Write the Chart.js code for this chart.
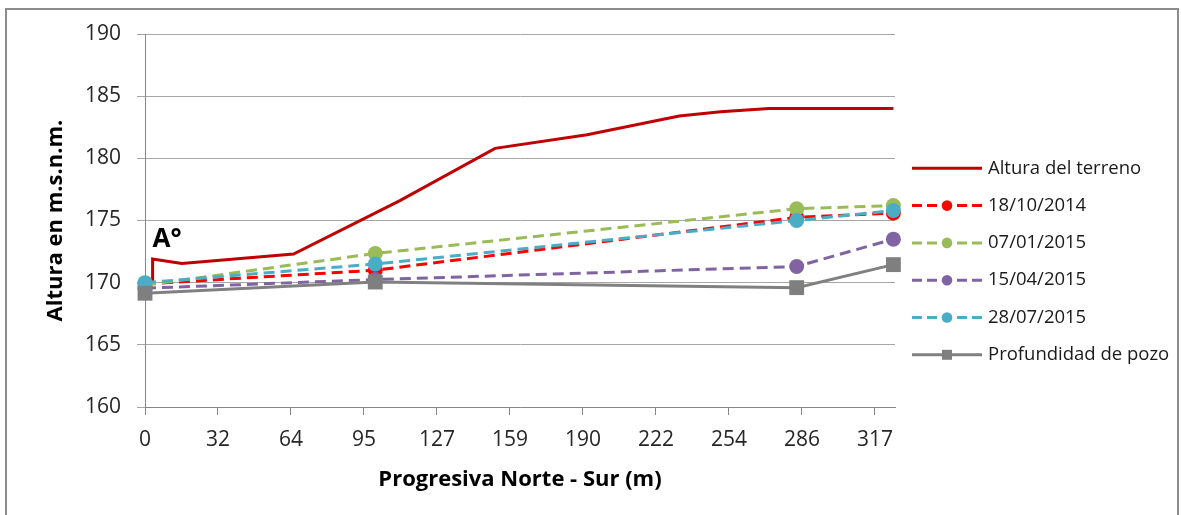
<!DOCTYPE html>
<html>
<head>
  <title>Perfil Norte - Sur</title>
  <script src="https://cdn.jsdelivr.net/npm/chart.js"></script>
  <style>
    body { margin: 0; background: white; font-family: "Open Sans"; }
    #wrap { position: relative; width: 1181px; height: 515px; overflow: hidden; }
    #frame { position: absolute; left: 5px; top: 8px; width: 1170px; height: 520px;
             border: 2px solid #8c8c8c; pointer-events: none; }
    canvas { position: absolute; left: 0; top: 0; }
  </style>
</head>
<body>
  <div id="wrap">
    <canvas id="chart" width="1181" height="515"></canvas>
    <div id="frame"></div>
  </div>
  <script>
    // valores
    const terrenoX = [3.3, 3.3, 16, 64.5, 110.7, 152, 192, 232, 250, 271, 325];
    const terrenoY = [170.0, 171.9, 171.55, 172.3, 176.6, 180.8, 181.9, 183.4, 183.75, 184.0, 184.0];

    const pozoX = [0, 100, 283, 325];
    const fecha1 = [169.9, 171.0, 175.25, 175.6];   // 18/10/2014
    const fecha2 = [169.8, 172.35, 175.95, 176.2];  // 07/01/2015
    const fecha3 = [169.55, 170.25, 171.3, 173.5];  // 15/04/2015
    const fecha4 = [170.0, 171.5, 175.0, 175.8];    // 28/07/2015
    const profundidad = [169.15, 170.05, 169.6, 171.45];

    const xTickLabels = ['0', '32', '64', '95', '127', '159', '190', '222', '254', '286', '317'];
    const xStep = 31.7;

    const pts = (xs, ys) => xs.map((x, i) => ({ x: x, y: ys[i] }));

    function dashed(label, ys, color, order) {
      return {
        label: label, data: pts(pozoX, ys), order: order,
        borderColor: color, backgroundColor: color, borderWidth: 3, borderDash: [11, 6],
        pointRadius: 7.5, pointStyle: 'circle', pointBorderWidth: 0, clip: false
      };
    }

    // leyenda a mano (linea + marcador)
    const legendPlugin = {
      id: 'sideLegend',
      afterDraw(chart) {
        const ctx = chart.ctx;
        ctx.save();
        chart.data.datasets.forEach((ds, i) => {
          const y = 168.3 + i * 37.3;
          ctx.strokeStyle = ds.borderColor;
          ctx.lineWidth = 3;
          ctx.setLineDash(ds.borderDash ? [10, 5] : []);
          ctx.beginPath();
          ctx.moveTo(912, y);
          ctx.lineTo(982, y);
          ctx.stroke();
          ctx.setLineDash([]);
          ctx.fillStyle = ds.backgroundColor;
          if (ds.pointStyle === 'circle' && ds.pointRadius) {
            ctx.beginPath();
            ctx.arc(947, y, 5.3, 0, Math.PI * 2);
            ctx.fill();
          } else if (ds.pointStyle === 'rect' && ds.pointRadius) {
            ctx.fillRect(942, y - 5, 10, 10);
          }
          ctx.fillStyle = '#1a1a1a';
          ctx.font = '18.5px "Open Sans"';
          ctx.textBaseline = 'middle';
          ctx.fillText(ds.label, 988, y);
        });
        // marca A°
        const xs = chart.scales.x, ys = chart.scales.y;
        ctx.font = 'bold 26px "Open Sans"';
        ctx.fillStyle = '#000';
        ctx.textBaseline = 'alphabetic';
        ctx.fillText('A°', xs.getPixelForValue(3.3), ys.getPixelForValue(172.9));
        ctx.restore();
      }
    };

    new Chart(document.getElementById('chart'), {
      type: 'line',
      data: {
        datasets: [
          {
            label: 'Altura del terreno', data: pts(terrenoX, terrenoY), order: 6,
            borderColor: '#c00000', backgroundColor: '#c00000', borderWidth: 3,
            pointRadius: 0, clip: false
          },
          dashed('18/10/2014', fecha1, '#ff0000', 5),
          dashed('07/01/2015', fecha2, '#9bbb59', 4),
          dashed('15/04/2015', fecha3, '#8064a2', 3),
          dashed('28/07/2015', fecha4, '#4bacc6', 2),
          {
            label: 'Profundidad de pozo', data: pts(pozoX, profundidad), order: 1,
            borderColor: '#808080', backgroundColor: '#7f7f7f', borderWidth: 3,
            pointRadius: 10.5, pointStyle: 'rect', pointBorderWidth: 0, clip: false
          }
        ]
      },
      options: {
        responsive: false,
        animation: false,
        layout: { padding: { top: 34, right: 286, bottom: 0, left: 0 } },
        plugins: { legend: { display: false }, tooltip: { enabled: false } },
        elements: { line: { tension: 0 } },
        scales: {
          x: {
            type: 'linear', min: 0, max: 325.7,
            afterBuildTicks: s => { s.ticks = xTickLabels.map((t, i) => ({ value: i * xStep })); },
            afterFit: s => { s.height = 108; },
            ticks: {
              callback: (v, i) => xTickLabels[i], autoSkip: false, maxRotation: 0,
              color: '#262626', font: { family: 'Open Sans', size: 21 }, padding: 12
            },
            grid: { drawOnChartArea: false, drawTicks: true, tickLength: 8, color: '#868686' },
            border: { color: '#868686' },
            title: {
              display: true, text: 'Progresiva Norte - Sur (m)', color: '#000',
              font: { family: 'Open Sans', size: 22, weight: 'bold' }, padding: { top: 0, bottom: 22 }
            }
          },
          y: {
            min: 160, max: 190,
            afterFit: s => { s.width = 145; },
            ticks: {
              stepSize: 5, color: '#262626', font: { family: 'Open Sans', size: 21 }, padding: 16
            },
            grid: { color: '#a6a6a6', tickLength: 8 },
            border: { color: '#868686' },
            title: {
              display: true, text: 'Altura en m.s.n.m.', color: '#000',
              font: { family: 'Open Sans', size: 22, weight: 'bold' }, padding: { top: 43, bottom: 0 }
            }
          }
        }
      },
      plugins: [legendPlugin]
    });
  </script>
</body>
</html>
